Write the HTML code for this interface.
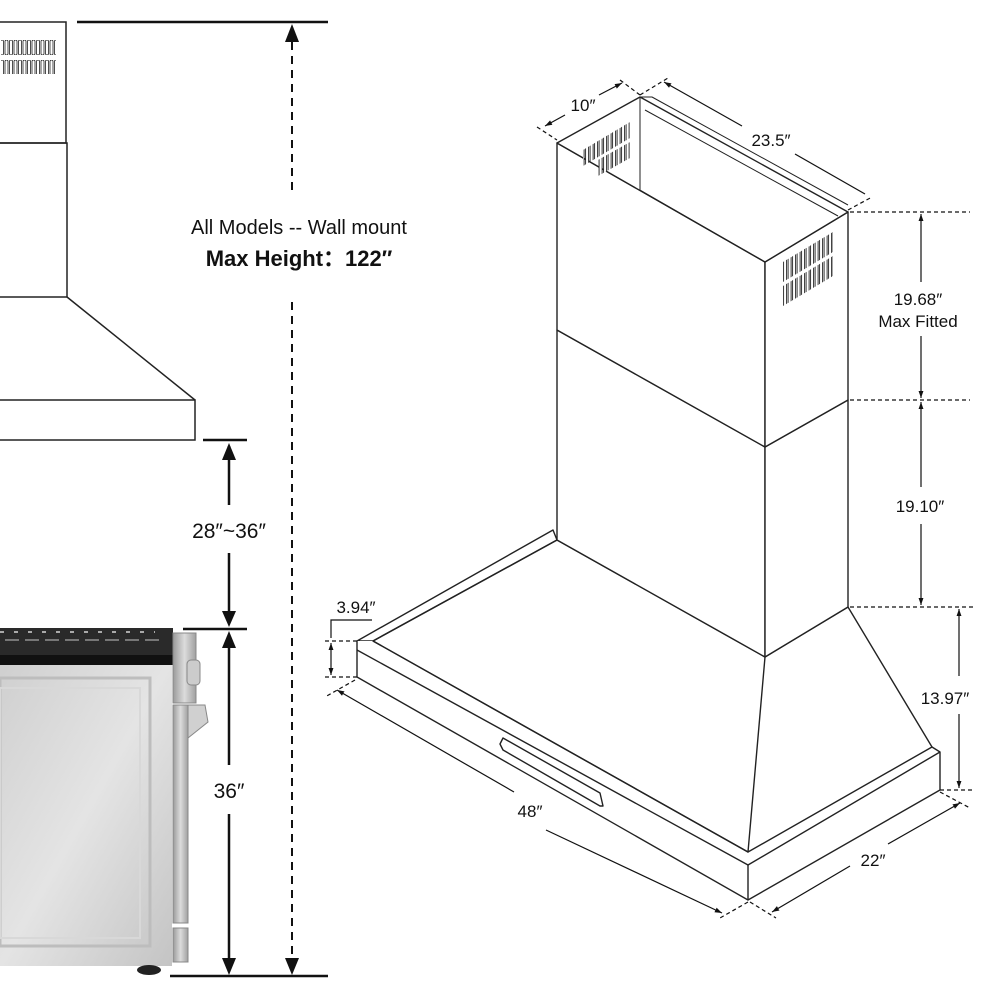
<!DOCTYPE html>
<html><head><meta charset="utf-8"><style>
html,body{margin:0;padding:0;background:#fff;}
svg{display:block;}
text{font-family:"Liberation Sans",sans-serif;fill:#111;}
</style></head><body>
<svg width="1000" height="1000" viewBox="0 0 1000 1000" xmlns="http://www.w3.org/2000/svg">
<defs>
<marker id="as" viewBox="0 0 10 10" refX="10" refY="5" markerWidth="6" markerHeight="6" orient="auto-start-reverse"><path d="M0,1.5 L10,5 L0,8.5 z" fill="#111"/></marker>
<linearGradient id="gb" x1="0" y1="0" x2="1" y2="1"><stop offset="0" stop-color="#cfcfcf"/><stop offset="0.5" stop-color="#e4e4e4"/><stop offset="1" stop-color="#c4c4c4"/></linearGradient>
<linearGradient id="gs" x1="0" y1="0" x2="1" y2="0"><stop offset="0" stop-color="#9a9a9a"/><stop offset="0.5" stop-color="#dcdcdc"/><stop offset="1" stop-color="#a0a0a0"/></linearGradient>
<pattern id="vent" width="4.5" height="200" patternUnits="userSpaceOnUse"><rect x="0.6" y="-5" width="3" height="210" fill="#fff" stroke="#222" stroke-width="0.9"/></pattern>
<pattern id="vent2" width="4.5" height="20" patternUnits="userSpaceOnUse"><rect x="0.5" y="0" width="3" height="15" rx="1.5" fill="#fff" stroke="#222" stroke-width="0.8"/></pattern>
</defs>

<!-- LEFT HOOD -->
<g fill="none" stroke="#222" stroke-width="1.5">
<rect x="-2" y="22" width="68" height="121"/>
<rect x="-2" y="143" width="69" height="154"/>
<path d="M67,297 L195,400"/>
<rect x="-2" y="400" width="197" height="40"/>
</g>
<rect x="1" y="40" width="55" height="15" fill="url(#vent2)"/>
<rect x="1" y="59" width="55" height="15" fill="url(#vent2)"/>

<!-- Max height dims -->
<line x1="77" y1="22" x2="328" y2="22" stroke="#111" stroke-width="2.5"/>
<line x1="292" y1="28" x2="292" y2="195" stroke="#111" stroke-width="2" stroke-dasharray="8,6"/>
<path d="M285,42 L292,24 L299,42 z" fill="#111"/>
<line x1="292" y1="302" x2="292" y2="960" stroke="#111" stroke-width="2" stroke-dasharray="8,6"/>
<path d="M285,958 L292,975 L299,958 z" fill="#111"/>
<line x1="170" y1="976" x2="328" y2="976" stroke="#111" stroke-width="2.5"/>
<text x="299" y="234" font-size="20" text-anchor="middle">All Models -- Wall mount</text>
<text x="299" y="266" font-size="22" font-weight="bold" text-anchor="middle">Max Height：122″</text>

<!-- 28-36 -->
<line x1="203" y1="440" x2="247" y2="440" stroke="#111" stroke-width="2.5"/>
<line x1="229" y1="446" x2="229" y2="505" stroke="#111" stroke-width="2.5"/>
<path d="M222,460 L229,443 L236,460 z" fill="#111"/>
<line x1="229" y1="553" x2="229" y2="620" stroke="#111" stroke-width="2.5"/>
<path d="M222,611 L229,627 L236,611 z" fill="#111"/>
<text x="229" y="538" font-size="21" text-anchor="middle">28″~36″</text>
<line x1="183" y1="629" x2="247" y2="629" stroke="#111" stroke-width="2.5"/>
<line x1="229" y1="636" x2="229" y2="765" stroke="#111" stroke-width="2.5"/>
<path d="M222,648 L229,631 L236,648 z" fill="#111"/>
<line x1="229" y1="814" x2="229" y2="970" stroke="#111" stroke-width="2.5"/>
<path d="M222,958 L229,975 L236,958 z" fill="#111"/>
<text x="229" y="798" font-size="21" text-anchor="middle">36″</text>

<!-- RANGE -->
<rect x="0" y="660" width="172" height="306" fill="url(#gb)"/>
<rect x="0" y="678" width="150" height="268" fill="none" stroke="#bdbdbd" stroke-width="3"/>
<rect x="0" y="688" width="140" height="250" fill="none" stroke="#d8d8d8" stroke-width="2"/>
<rect x="0" y="628" width="173" height="37" fill="#2a2a2a"/>
<rect x="0" y="655" width="173" height="10" fill="#111"/>
<g stroke="#777" stroke-width="2">
<line x1="5" y1="640" x2="160" y2="640" stroke-dasharray="14,6"/>
<line x1="0" y1="632" x2="155" y2="632" stroke="#aaa" stroke-dasharray="4,10"/>
</g>
<rect x="173" y="633" width="23" height="70" fill="url(#gs)" stroke="#888" stroke-width="1"/>
<rect x="187" y="660" width="13" height="25" rx="4" fill="#ccc" stroke="#888"/>
<rect x="173" y="705" width="15" height="218" fill="url(#gs)" stroke="#888" stroke-width="1"/>
<path d="M188,705 L205,705 L208,722 L188,738 z" fill="#d0d0d0" stroke="#888"/>
<rect x="173" y="928" width="15" height="34" fill="url(#gs)" stroke="#888"/>
<ellipse cx="149" cy="970" rx="12" ry="5" fill="#222"/>

<!-- RIGHT HOOD -->
<g fill="#fff" stroke="#222" stroke-width="1.4" stroke-linejoin="round">
<path d="M357,641 L553,530 L557,540 L373,641 z" />
<path d="M357,641 L357,677 L748,900 L940,790 L940,752 L932,747 L748,852 L373,641"/>
<path d="M357,650 L748,865 L940,752" fill="none"/>
<line x1="748" y1="865" x2="748" y2="900"/>
<path d="M373,641 L557,540 L765,657 L748,852 z" fill="none"/>
<path d="M765,657 L848,607 L932,747" fill="none"/>
<path d="M503,738 L600,793 L603,806 L600,806 L503,750 L500,744 z" fill="#fff"/>
<path d="M557,330 L765,447 L765,657 L557,540 z"/>
<path d="M765,447 L848,400 L848,607 L765,657 z"/>
<path d="M557,143 L765,262 L765,447 L557,330 z"/>
<path d="M765,262 L848,212 L848,400 L765,447 z"/>
<path d="M557,143 L640,97 L848,212 L765,262 z"/>
<path d="M640,97 L640,190 L765,262" fill="none" stroke-width="1"/>
<path d="M640,97 L652,97 L848,205" fill="none" stroke-width="1"/>
<path d="M645,110 L838,216" fill="none" stroke-width="1"/>
</g>
<!-- inner vents -->
<path d="M583,150 L630,122 L630,138 L583,166 z" fill="url(#vent)"/>
<path d="M583,170 L630,142 L630,158 L583,186 z" fill="none"/>
<path d="M598,176 L630,158 L630,142 L598,160 z" fill="url(#vent)"/>
<!-- right face vents -->
<path d="M783,262 L833,232 L833,252 L783,282 z" fill="url(#vent)"/>
<path d="M783,286 L833,256 L833,276 L783,306 z" fill="url(#vent)"/>

<!-- right dims -->
<g stroke="#111" stroke-width="1.2" fill="none">
<line x1="850" y1="212" x2="970" y2="212" stroke-dasharray="4,3"/>
<line x1="850" y1="400" x2="970" y2="400" stroke-dasharray="4,3"/>
<line x1="850" y1="607" x2="975" y2="607" stroke-dasharray="4,3"/>
<line x1="921" y1="214" x2="921" y2="282" marker-start="url(#as)"/>
<line x1="921" y1="336" x2="921" y2="398" marker-end="url(#as)"/>
<line x1="921" y1="402" x2="921" y2="487" marker-start="url(#as)"/>
<line x1="921" y1="524" x2="921" y2="605" marker-end="url(#as)"/>
<line x1="959" y1="609" x2="959" y2="676" marker-start="url(#as)"/>
<line x1="959" y1="714" x2="959" y2="788" marker-end="url(#as)"/>
<line x1="940" y1="790" x2="975" y2="790" stroke-dasharray="4,3"/>
<line x1="325" y1="641" x2="357" y2="641" stroke-dasharray="4,3"/>
<line x1="325" y1="677" x2="357" y2="677" stroke-dasharray="4,3"/>
<line x1="331" y1="643" x2="331" y2="675" marker-start="url(#as)" marker-end="url(#as)"/>
<path d="M331,638 L331,620 L372,620"/>
<line x1="355" y1="680" x2="325" y2="697" stroke-dasharray="4,3"/>
<line x1="748" y1="902" x2="720" y2="918" stroke-dasharray="4,3"/>
<line x1="750" y1="902" x2="776" y2="918" stroke-dasharray="4,3"/>
<line x1="940" y1="792" x2="970" y2="808" stroke-dasharray="4,3"/>
<line x1="337" y1="690" x2="514" y2="792" marker-start="url(#as)"/>
<line x1="546" y1="830" x2="722" y2="913" marker-end="url(#as)"/>
<line x1="772" y1="912" x2="850" y2="866" marker-start="url(#as)"/>
<line x1="888" y1="844" x2="960" y2="803" marker-end="url(#as)"/>
<line x1="537" y1="127" x2="557" y2="140" stroke-dasharray="4,3"/>
<line x1="620" y1="80" x2="640" y2="95" stroke-dasharray="4,3"/>
<line x1="640" y1="95" x2="668" y2="78" stroke-dasharray="4,3"/>
<line x1="848" y1="210" x2="872" y2="197" stroke-dasharray="4,3"/>
<line x1="545" y1="126" x2="565" y2="115" marker-start="url(#as)"/>
<line x1="599" y1="95" x2="622" y2="83" marker-end="url(#as)"/>
<line x1="664" y1="82" x2="742" y2="126" marker-start="url(#as)"/>
<line x1="795" y1="154" x2="865" y2="194"/>
</g>
<g font-size="17">
<text x="918" y="305" text-anchor="middle">19.68″</text>
<text x="918" y="327" text-anchor="middle">Max Fitted</text>
<text x="920" y="512" text-anchor="middle">19.10″</text>
<text x="945" y="704" text-anchor="middle">13.97″</text>
<text x="356" y="613" text-anchor="middle">3.94″</text>
<text x="530" y="817" text-anchor="middle">48″</text>
<text x="873" y="866" text-anchor="middle">22″</text>
<text x="583" y="111" text-anchor="middle">10″</text>
<text x="771" y="146" text-anchor="middle">23.5″</text>
</g>
</svg>
</body></html>
